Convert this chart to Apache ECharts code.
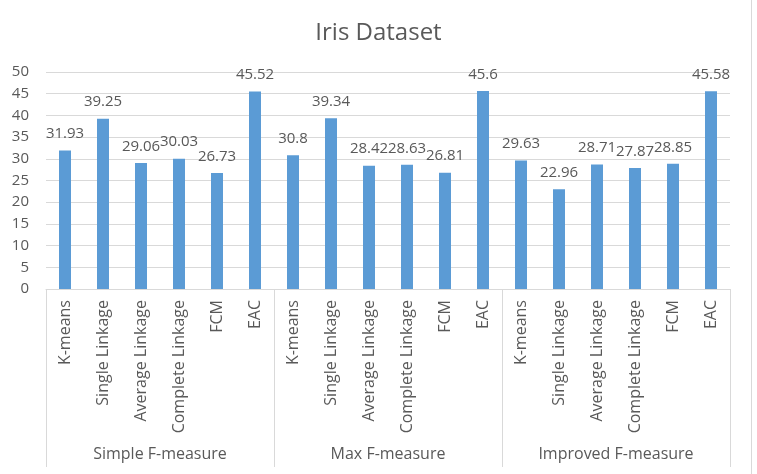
<!DOCTYPE html>
<html>
<head>
<meta charset="utf-8">
<script src="https://cdn.jsdelivr.net/npm/echarts@6/dist/echarts.min.js"></script>
<style>html,body{margin:0;padding:0;background:#fff}#c{width:757px;height:474px}</style>
</head>
<body>
<div id="c"></div>
<script>
const methods = ['K-means','Single Linkage','Average Linkage','Complete Linkage','FCM','EAC'];
const groups = ['Simple F-measure','Max F-measure','Improved F-measure'];
const simpleF = [31.93, 39.25, 29.06, 30.03, 26.73, 45.52];
const maxF = [30.8, 39.34, 28.42, 28.63, 26.81, 45.6];
const improvedF = [29.63, 22.96, 28.71, 27.87, 28.85, 45.58];
const yTicks = {min: 0, max: 50, interval: 5};

const categories = [].concat(methods, methods, methods);
const values = [].concat(simpleF, maxF, improvedF);
const FONT = '"Open Sans", sans-serif';
const TXT = '#595959';

const chart = echarts.init(document.getElementById('c'), null, {renderer: 'canvas'});
chart.setOption({
  animation: false,
  backgroundColor: '#fff',
  title: {
    text: 'Iris Dataset', left: 'center', top: 16,
    textStyle: {fontFamily: FONT, fontSize: 24, fontWeight: 'normal', color: TXT}
  },
  grid: {left: 46, right: 27, top: 72, bottom: 185, containLabel: false},
  xAxis: [{
    type: 'category', data: categories, position: 'bottom',
    axisLine: {show: true, lineStyle: {color: '#d9d9d9', width: 1}},
    axisTick: {show: false},
    axisLabel: {interval: 0, rotate: 90, margin: 11, fontFamily: FONT, fontSize: 16, color: TXT}
  }, {
    type: 'category', data: groups, position: 'bottom',
    axisLine: {show: false},
    axisTick: {show: true, interval: 0, length: 178, lineStyle: {color: '#d9d9d9', width: 1}},
    axisLabel: {interval: 0, margin: 157, fontFamily: FONT, fontSize: 16, color: TXT}
  }],
  yAxis: {
    type: 'value', min: yTicks.min, max: yTicks.max, interval: yTicks.interval,
    axisLine: {show: false}, axisTick: {show: false},
    splitLine: {lineStyle: {color: '#d9d9d9', width: 1}},
    axisLabel: {margin: 17, fontFamily: FONT, fontSize: 15, color: TXT}
  },
  series: [{
    type: 'bar', data: values, xAxisIndex: 0, barWidth: 12,
    itemStyle: {color: '#5b9bd5'},
    label: {show: true, position: 'top', distance: 9, fontFamily: FONT, fontSize: 15, color: TXT}
  }],
  graphic: [{
    type: 'line', shape: {x1: 751.5, y1: 0, x2: 751.5, y2: 474},
    style: {stroke: '#d9d9d9', lineWidth: 1}
  }]
});
</script>
</body>
</html>
